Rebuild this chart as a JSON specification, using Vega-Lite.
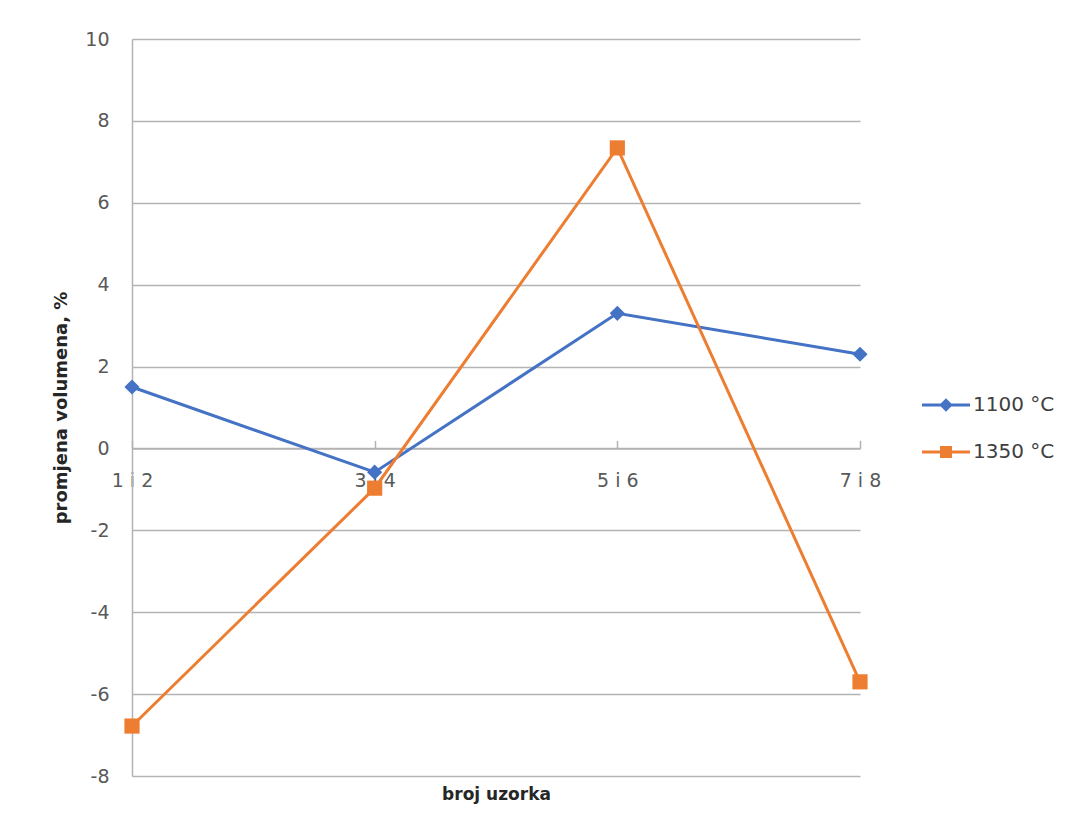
{
  "$schema": "https://vega.github.io/schema/vega-lite/v6.json",
  "width": 728,
  "height": 737,
  "autosize": "none",
  "padding": {"left": 132, "top": 39, "right": 223, "bottom": 64},
  "background": "white",
  "config": {
    "font": "DejaVu Sans",
    "view": {"stroke": null},
    "axis": {"labelFont": "DejaVu Sans", "titleFont": "DejaVu Sans"},
    "legend": {"labelFont": "DejaVu Sans"}
  },
  "data": {
    "values": [
      {"uzorak": "1 i 2", "serija": "1100 °C", "oznaka": "romb", "promjena": 1.5},
      {"uzorak": "3 i 4", "serija": "1100 °C", "oznaka": "romb", "promjena": -0.58},
      {"uzorak": "5 i 6", "serija": "1100 °C", "oznaka": "romb", "promjena": 3.3},
      {"uzorak": "7 i 8", "serija": "1100 °C", "oznaka": "romb", "promjena": 2.3},
      {"uzorak": "1 i 2", "serija": "1350 °C", "oznaka": "kvadrat", "promjena": -6.78},
      {"uzorak": "3 i 4", "serija": "1350 °C", "oznaka": "kvadrat", "promjena": -0.97},
      {"uzorak": "5 i 6", "serija": "1350 °C", "oznaka": "kvadrat", "promjena": 7.34},
      {"uzorak": "7 i 8", "serija": "1350 °C", "oznaka": "kvadrat", "promjena": -5.7}
    ]
  },
  "encoding": {
    "x": {
      "field": "uzorak",
      "type": "ordinal",
      "scale": {"type": "point", "padding": 0, "domain": ["1 i 2", "3 i 4", "5 i 6", "7 i 8"]},
      "axis": {
        "title": "broj uzorka",
        "offset": -327.6,
        "grid": false,
        "labelAngle": 0,
        "domainColor": "#b3b3b3",
        "domainWidth": 1.5,
        "tickColor": "#b3b3b3",
        "tickWidth": 1.5,
        "tickSize": -8,
        "labelPadding": 31,
        "labelFontSize": 19,
        "labelColor": "#595959",
        "titleFontSize": 17,
        "titleFontWeight": "bold",
        "titleColor": "#262626",
        "titlePadding": 296
      }
    },
    "y": {
      "field": "promjena",
      "type": "quantitative",
      "scale": {"domain": [-8, 10], "nice": false, "zero": false},
      "axis": {
        "title": "promjena volumena, %",
        "values": [-8, -6, -4, -2, 0, 2, 4, 6, 8, 10],
        "labelExpr": "datum.value < 0 ? '-' + abs(datum.value) : '' + datum.value",
        "grid": true,
        "gridColor": "#b3b3b3",
        "gridWidth": 1.5,
        "domainColor": "#b3b3b3",
        "domainWidth": 1.5,
        "ticks": false,
        "labelPadding": 23,
        "labelFontSize": 19,
        "labelColor": "#595959",
        "titleFontSize": 18,
        "titleFontWeight": "bold",
        "titleColor": "#262626",
        "titlePadding": 14
      }
    },
    "color": {
      "field": "serija",
      "type": "nominal",
      "scale": {"domain": ["1100 °C", "1350 °C"], "range": ["#4472C4", "#ED7D31"]},
      "legend": {
        "title": null,
        "orient": "none",
        "legendX": 790,
        "legendY": 342,
        "symbolSize": 2304,
        "symbolStrokeWidth": 0,
        "rowPadding": 13,
        "labelFontSize": 20,
        "labelColor": "#404040",
        "labelOffset": 3,
        "encode": {
          "symbols": {
            "update": {
              "shape": {"signal": "datum.value === '1100 °C' ? 'M-1,-0.06L1,-0.06L1,0.06L-1,0.06Z M0,-0.28L0.28,0L0,0.28L-0.28,0Z' : 'M-1,-0.06L1,-0.06L1,0.06L-1,0.06Z M-0.25,-0.25L0.25,-0.25L0.25,0.25L-0.25,0.25Z'"},
              "fill": {"signal": "datum.value === '1100 °C' ? '#4472C4' : '#ED7D31'"},
              "fillOpacity": {"value": 1},
              "strokeWidth": {"value": 0}
            }
          }
        }
      }
    }
  },
  "layer": [
    {"mark": {"type": "line", "strokeWidth": 3}},
    {
      "mark": {"type": "point", "filled": true, "size": 230, "opacity": 1},
      "encoding": {
        "shape": {
          "field": "oznaka",
          "type": "nominal",
          "scale": {"domain": ["romb", "kvadrat"], "range": ["diamond", "square"]},
          "legend": null
        }
      }
    }
  ]
}
